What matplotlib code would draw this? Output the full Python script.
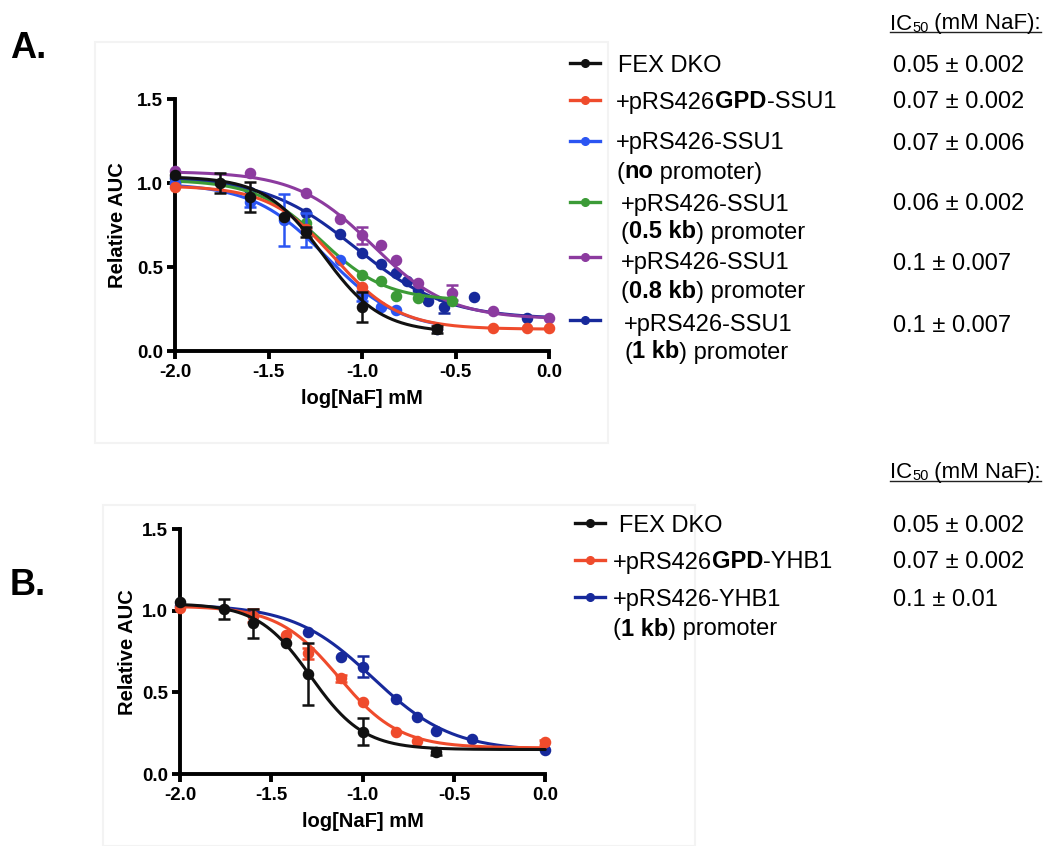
import numpy as np
import matplotlib
matplotlib.use('Agg')
import matplotlib.pyplot as plt
from matplotlib.lines import Line2D
from matplotlib.patches import Rectangle

plt.rcParams['font.family'] = ['Liberation Sans', 'DejaVu Sans']

W, H = 1059, 846

BLACK = '#111111'
RED = '#ef4b2c'
BLUE = '#2b55f2'
GREEN = '#3c9b37'
PURPLE = '#8c3b9f'
NAVY = '#17299b'

# ---------------- Panel A: SSU1 constructs ----------------
a_fex_x = [-2.0, -1.76, -1.6, -1.42, -1.3, -1.0, -0.6]
a_fex_y = [1.05, 1.00, 0.92, 0.80, 0.71, 0.26, 0.13]
a_fex_err = [0.0, 0.06, 0.09, 0.0, 0.03, 0.09, 0.02]

a_gpd_x = [-2.0, -1.3, -1.0, -0.6, -0.3, -0.12, 0.0]
a_gpd_y = [0.98, 0.73, 0.38, 0.135, 0.139, 0.137, 0.135]
a_gpd_err = [0.0, 0.0, 0.0, 0.0, 0.0, 0.0, 0.0]

a_nopro_x = [-2.0, -1.6, -1.42, -1.3, -1.12, -1.0, -0.9, -0.82, -0.6]
a_nopro_y = [1.00, 0.89, 0.78, 0.72, 0.54, 0.33, 0.26, 0.245, 0.13]
a_nopro_err = [0.0, 0.03, 0.155, 0.10, 0.0, 0.03, 0.0, 0.0, 0.0]

a_05kb_x = [-2.0, -1.3, -1.0, -0.9, -0.82, -0.7, -0.52]
a_05kb_y = [1.00, 0.76, 0.453, 0.42, 0.33, 0.315, 0.30]
a_05kb_err = [0.0, 0.0, 0.0, 0.0, 0.0, 0.0, 0.0]

a_08kb_x = [-2.0, -1.6, -1.3, -1.12, -1.0, -0.9, -0.82, -0.7, -0.52, -0.3, 0.0]
a_08kb_y = [1.07, 1.06, 0.943, 0.785, 0.69, 0.632, 0.542, 0.403, 0.347, 0.24, 0.195]
a_08kb_err = [0.0, 0.0, 0.0, 0.0, 0.05, 0.0, 0.0, 0.0, 0.045, 0.0, 0.0]

a_1kb_x = [-2.0, -1.6, -1.3, -1.12, -1.0, -0.9, -0.82, -0.76, -0.7, -0.65, -0.56, -0.4, -0.12]
a_1kb_y = [1.03, 0.95, 0.824, 0.70, 0.586, 0.518, 0.467, 0.419, 0.363, 0.30, 0.264, 0.324, 0.195]
a_1kb_err = [0.0, 0.0, 0.0, 0.0, 0.0, 0.0, 0.0, 0.0, 0.0, 0.0, 0.04, 0.0, 0.0]

# fitted dose-response: top, bottom, logIC50, hill slope, last x of the fit
a_fex_fit = [1.04, 0.11, -1.21, 2.8, -0.6]
a_gpd_fit = [0.985, 0.13, -1.15, 2.5, 0.0]
a_nopro_fit = [1.0, 0.12, -1.19, 2.2, -0.6]
a_05kb_fit = [1.02, 0.30, -1.22, 2.5, -0.52]
a_08kb_fit = [1.07, 0.19, -0.944, 2.13, 0.0]
a_1kb_fit = [1.04, 0.19, -1.035, 1.8, 0.0]

a_ic50 = ['0.05 \u00b1 0.002', '0.07 \u00b1 0.002', '0.07 \u00b1 0.006',
          '0.06 \u00b1 0.002', '0.1 \u00b1 0.007', '0.1 \u00b1 0.007']

# ---------------- Panel B: YHB1 constructs ----------------
b_fex_x = [-2.0, -1.76, -1.6, -1.42, -1.3, -1.0, -0.6]
b_fex_y = [1.057, 1.01, 0.924, 0.80, 0.613, 0.26, 0.137]
b_fex_err = [0.0, 0.06, 0.09, 0.0, 0.19, 0.085, 0.02]

b_gpd_x = [-2.0, -1.6, -1.42, -1.3, -1.12, -1.0, -0.82, -0.7, 0.0]
b_gpd_y = [1.02, 0.97, 0.85, 0.74, 0.587, 0.443, 0.26, 0.204, 0.195]
b_gpd_err = [0.0, 0.04, 0.0, 0.035, 0.02, 0.0, 0.0, 0.0, 0.015]

b_1kb_x = [-2.0, -1.6, -1.3, -1.12, -1.0, -0.82, -0.7, -0.6, -0.4, 0.0]
b_1kb_y = [1.03, 0.969, 0.873, 0.715, 0.658, 0.458, 0.35, 0.266, 0.215, 0.147]
b_1kb_err = [0.0, 0.0, 0.0, 0.0, 0.065, 0.0, 0.0, 0.0, 0.0, 0.0]

b_fex_fit = [1.045, 0.15, -1.284, 3.0, 0.0]
b_gpd_fit = [1.03, 0.16, -1.132, 2.6, 0.0]
b_1kb_fit = [1.04, 0.14, -0.945, 2.0, 0.0]

b_ic50 = ['0.05 \u00b1 0.002', '0.07 \u00b1 0.002', '0.1 \u00b1 0.01']

x_ticks = [-2.0, -1.5, -1.0, -0.5, 0.0]
y_ticks = [0.0, 0.5, 1.0, 1.5]


def fx(px):
    return px / W


def fy(py):
    return 1 - py / H


def draw_series(ax, x, y, err, fit, color, z):
    x = np.asarray(x)
    y = np.asarray(y)
    err = np.asarray(err)
    top, bottom, x50, hill, xend = fit
    xs = np.linspace(-2.0, xend, 400)
    ys = bottom + (top - bottom) / (1 + 10 ** (hill * (xs - x50)))
    ax.plot(xs, ys, color=color, lw=2.2, zorder=z, clip_on=False,
            solid_capstyle='round')
    m = err > 0
    if m.any():
        ax.errorbar(x[m], y[m], yerr=err[m], fmt='none', ecolor=color,
                    elinewidth=1.8, capsize=4.5, capthick=1.8, zorder=z + 0.3)
    ax.plot(x, y, 'o', color=color, ms=7.3, mec=color, zorder=z + 0.5,
            clip_on=False, ls='none')


def style_axes(ax, ylabelpad):
    ax.set_xlim(-2.0, 0.0)
    ax.set_ylim(0.0, 1.5)
    ax.set_xticks(x_ticks)
    ax.set_yticks(y_ticks)
    ax.set_xticklabels(['%.1f' % v for v in x_ticks])
    ax.set_yticklabels(['%.1f' % v for v in y_ticks])
    for s in ['top', 'right']:
        ax.spines[s].set_visible(False)
    for s in ['left', 'bottom']:
        ax.spines[s].set_linewidth(2.8)
        ax.spines[s].set_color('black')
        ax.spines[s].set_capstyle('projecting')
    ax.tick_params(width=2.8, length=6, direction='out', pad=2.5,
                   labelsize=13.5)
    ax.tick_params(axis='x', pad=3)
    for lab in ax.get_xticklabels() + ax.get_yticklabels():
        lab.set_fontweight('bold')
    ax.set_xlabel('log[NaF] mM', fontsize=14.5, fontweight='bold', labelpad=6)
    ax.set_ylabel('Relative AUC', fontsize=14.5, fontweight='bold',
                  labelpad=ylabelpad)
    ax.patch.set_alpha(0)


fig = plt.figure(figsize=(W / 100, H / 100), dpi=100)
renderer = fig.canvas.get_renderer()

# faint frames around the two panels
fig.add_artist(Rectangle((fx(95), fy(443)), (608 - 95) / W, (443 - 42) / H,
                         transform=fig.transFigure, fill=False,
                         ec='#f3f3f3', lw=1.5, zorder=0))
fig.add_artist(Rectangle((fx(103), fy(846)), (695 - 103) / W, (846 - 505) / H,
                         transform=fig.transFigure, fill=False,
                         ec='#f3f3f3', lw=1.5, zorder=0))

axA = fig.add_axes([fx(175), fy(351), (549.3 - 175) / W, (351 - 99.3) / H])
axB = fig.add_axes([fx(180), fy(774), (545.3 - 180) / W, (774 - 529.3) / H])

draw_series(axA, a_1kb_x, a_1kb_y, a_1kb_err, a_1kb_fit, NAVY, 3)
draw_series(axA, a_08kb_x, a_08kb_y, a_08kb_err, a_08kb_fit, PURPLE, 4)
draw_series(axA, a_05kb_x, a_05kb_y, a_05kb_err, a_05kb_fit, GREEN, 5)
draw_series(axA, a_nopro_x, a_nopro_y, a_nopro_err, a_nopro_fit, BLUE, 6)
draw_series(axA, a_gpd_x, a_gpd_y, a_gpd_err, a_gpd_fit, RED, 7)
draw_series(axA, a_fex_x, a_fex_y, a_fex_err, a_fex_fit, BLACK, 8)
style_axes(axA, 7)

draw_series(axB, b_1kb_x, b_1kb_y, b_1kb_err, b_1kb_fit, NAVY, 4)
draw_series(axB, b_gpd_x, b_gpd_y, b_gpd_err, b_gpd_fit, RED, 5)
draw_series(axB, b_fex_x, b_fex_y, b_fex_err, b_fex_fit, BLACK, 6)
style_axes(axB, 4)

# panel letters
fig.text(fx(10), fy(48), 'A.', fontsize=26, fontweight='bold', va='center', ha='left')
fig.text(fx(10), fy(585), 'B.', fontsize=26, fontweight='bold', va='center', ha='left')

LEG_SIZE = 17
BASE_OFF = 8.5  # pixels from text centre to baseline


def rich_text(x_px, y_center, segments, size=LEG_SIZE):
    x = x_px
    for s, bold in segments:
        t = fig.text(fx(x), fy(y_center + BASE_OFF), s, fontsize=size,
                     fontweight='bold' if bold else 'normal',
                     va='baseline', ha='left')
        x += t.get_window_extent(renderer).width
    return x


def legend_marker(x0, x1, y, color):
    xm = (x0 + x1) / 2
    fig.add_artist(Line2D([fx(x0), fx(xm), fx(x1)], [fy(y)] * 3,
                          transform=fig.transFigure, color=color, lw=2.4,
                          marker='o', ms=5.5, markevery=[1]))


def ic50_header(x_px, baseline):
    x = x_px
    t = fig.text(fx(x), fy(baseline), 'IC', fontsize=16, va='baseline')
    x += t.get_window_extent(renderer).width
    t = fig.text(fx(x), fy(baseline + 2), '50', fontsize=10.5, va='baseline')
    x += t.get_window_extent(renderer).width
    t = fig.text(fx(x), fy(baseline), ' (mM NaF):', fontsize=16, va='baseline')
    x += t.get_window_extent(renderer).width
    fig.add_artist(Line2D([fx(x_px), fx(x)], [fy(baseline + 3)] * 2,
                          transform=fig.transFigure, color='#222222', lw=1.0))


# legend and IC50 column, panel A
ic50_header(890, 29.5)
a_rows = [
    (63, BLACK, 618, [63], [[('FEX DKO', False)]]),
    (100, RED, 616, [100], [[('+pRS426', False), ('GPD', True), ('-SSU1', False)]]),
    (141, BLUE, 616, [141, 170], [[('+pRS426-SSU1', False)],
                                  [('(', False), ('no', True), (' promoter)', False)]]),
    (202, GREEN, 621, [202, 230], [[('+pRS426-SSU1', False)],
                                   [('(', False), ('0.5 kb', True), (') promoter', False)]]),
    (257, PURPLE, 621, [261, 289], [[('+pRS426-SSU1', False)],
                                    [('(', False), ('0.8 kb', True), (') promoter', False)]]),
    (320, NAVY, 624, [323, 350], [[('+pRS426-SSU1', False)],
                                  [('(', False), ('1 kb', True), (') promoter', False)]]),
]
for (my, col, tx, ys, lines), ic in zip(a_rows, a_ic50):
    legend_marker(570, 600, my, col)
    for yy, segs in zip(ys, lines):
        rich_text(tx, yy, segs)
    rich_text(893, ys[0], [(ic, False)])

# legend and IC50 column, panel B
ic50_header(890, 478)
b_rows = [
    (523, BLACK, 619, [523], [[('FEX DKO', False)]]),
    (560, RED, 613, [560], [[('+pRS426', False), ('GPD', True), ('-YHB1', False)]]),
    (597, NAVY, 613, [597, 627], [[('+pRS426-YHB1', False)],
                                  [('(', False), ('1 kb', True), (') promoter', False)]]),
]
for (my, col, tx, ys, lines), ic in zip(b_rows, b_ic50):
    legend_marker(575, 605, my, col)
    for yy, segs in zip(ys, lines):
        rich_text(tx, yy, segs)
    rich_text(893, ys[0], [(ic, False)])

fig.savefig('out.png', dpi=100)
